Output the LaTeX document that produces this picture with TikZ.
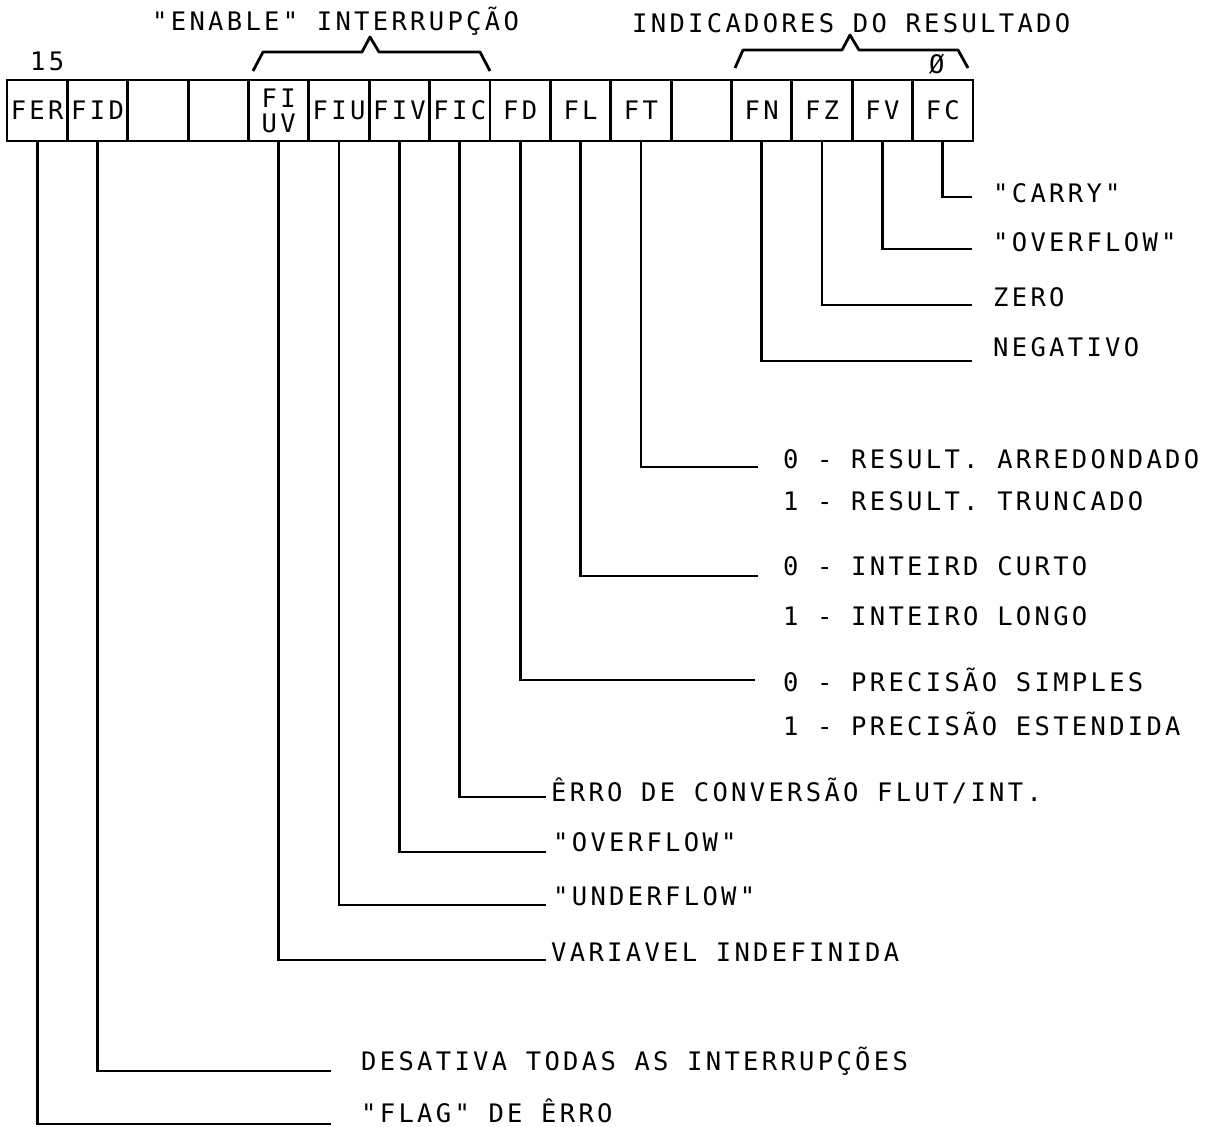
\documentclass[tikz,border=0pt]{standalone}
\usepackage{fontspec}
\newfontfamily\flagfont{DejaVu Sans Mono}[LetterSpace=13]
\usetikzlibrary{positioning}
\tikzset{
  cell/.style={draw, line width=2.8pt, outer sep=0pt, inner sep=0pt,
               minimum width=60.375pt, minimum height=61pt, align=center,
               font=\flagfont\fontsize{25.5}{25}\selectfont},
  txt/.style={anchor=base west, inner sep=0pt,
              font=\flagfont\fontsize{25.5}{25}\selectfont},
  lead/.style={line width=2.8pt},
  brace/.style={line width=2.8pt, line join=round},
}
\begin{document}
\begin{tikzpicture}[x=1pt, y=-1pt]
  \useasboundingbox (0,0) rectangle (1221,1127);
  % the register, bit 15 on the left
  \node[cell] (c15) at (37.2,110.5) {FER};
  \node[cell, right=0pt of c15] (c14) {FID};
  \node[cell, right=0pt of c14] (c13) {};
  \node[cell, right=0pt of c13] (c12) {};
  \node[cell, right=0pt of c12] (c11) {FI\\UV};
  \node[cell, right=0pt of c11] (c10) {FIU};
  \node[cell, right=0pt of c10] (c9) {FIV};
  \node[cell, right=0pt of c9] (c8) {FIC};
  \node[cell, right=0pt of c8] (c7) {FD};
  \node[cell, right=0pt of c7] (c6) {FL};
  \node[cell, right=0pt of c6] (c5) {FT};
  \node[cell, right=0pt of c5] (c4) {};
  \node[cell, right=0pt of c4] (c3) {FN};
  \node[cell, right=0pt of c3] (c2) {FZ};
  \node[cell, right=0pt of c2] (c1) {FV};
  \node[cell, right=0pt of c1] (c0) {FC};
  \node[txt] (n15) at (30,70) {15};
  \node[txt] (n0) at (929,73) {Ø};
  % group braces
  \node[txt] (ena) at (152,30) {"ENABLE" INTERRUPÇÃO};
  \draw[brace] (253,71) -- (263,52) -- (362,52) -- (370,37) -- (379,52) -- (480,52) -- (490,71);
  \node[txt] (ind) at (632,32) {INDICADORES DO RESULTADO};
  \draw[brace] (735,68) -- (743,50) -- (842,50) -- (850,35) -- (859,50) -- (958,50) -- (968,68);
  % result flags
  \coordinate (e0) at (972,197);
  \node[txt] (t0) at (993,202) {"CARRY"};
  \draw[lead] (c0.south) |- (e0);
  \coordinate (e1) at (972,249);
  \node[txt] (t1) at (993,251) {"OVERFLOW"};
  \draw[lead] (c1.south) |- (e1);
  \coordinate (e2) at (972,305);
  \node[txt] (t2) at (993,306) {ZERO};
  \draw[lead] (c2.south) |- (e2);
  \coordinate (e3) at (972,361);
  \node[txt] (t3) at (993,356) {NEGATIVO};
  \draw[lead] (c3.south) |- (e3);
  % mode bits
  \coordinate (e5) at (758,467);
  \node[txt] (t5a) at (783,468) {0 - RESULT. ARREDONDADO};
  \node[txt] (t5b) at (783,510) {1 - RESULT. TRUNCADO};
  \draw[lead] (c5.south) |- (e5);
  \coordinate (e6) at (758,576);
  \node[txt] (t6a) at (783,575) {0 - INTEIRD CURTO};
  \node[txt] (t6b) at (783,625) {1 - INTEIRO LONGO};
  \draw[lead] (c6.south) |- (e6);
  \coordinate (e7) at (755,680);
  \node[txt] (t7a) at (783,691) {0 - PRECISÃO SIMPLES};
  \node[txt] (t7b) at (783,735) {1 - PRECISÃO ESTENDIDA};
  \draw[lead] (c7.south) |- (e7);
  % interrupt enables
  \coordinate (e8) at (546,797);
  \node[txt] (t8) at (551,801) {ÊRRO DE CONVERSÃO FLUT/INT.};
  \draw[lead] (c8.south) |- (e8);
  \coordinate (e9) at (546,852);
  \node[txt] (t9) at (553,851) {"OVERFLOW"};
  \draw[lead] (c9.south) |- (e9);
  \coordinate (e10) at (546,905);
  \node[txt] (t10) at (553,905) {"UNDERFLOW"};
  \draw[lead] (c10.south) |- (e10);
  \coordinate (e11) at (546,960);
  \node[txt] (t11) at (551,961) {VARIAVEL INDEFINIDA};
  \draw[lead] (c11.south) |- (e11);
  \coordinate (e14) at (331,1071);
  \node[txt] (t14) at (361,1070) {DESATIVA TODAS AS INTERRUPÇÕES};
  \draw[lead] (c14.south) |- (e14);
  \coordinate (e15) at (331,1124);
  \node[txt] (t15) at (361,1122) {"FLAG" DE ÊRRO};
  \draw[lead] (c15.south) |- (e15);
\end{tikzpicture}
\end{document}
